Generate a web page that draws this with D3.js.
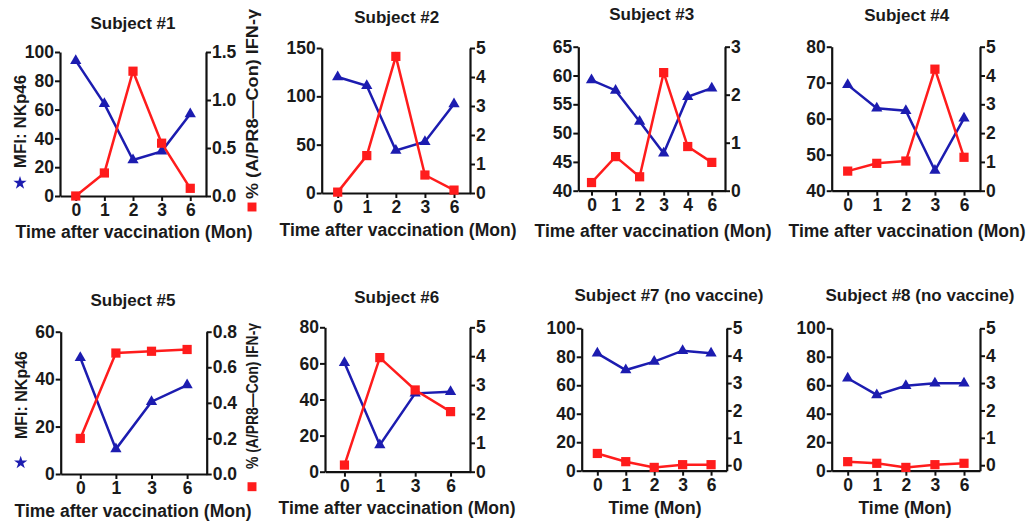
<!DOCTYPE html>
<html>
<head>
<meta charset="utf-8">
<script src="https://cdn.jsdelivr.net/npm/d3@7"></script>
<style>
  body { margin: 0; background: #fff; }
  text { font-family: 'Liberation Sans', Arial, sans-serif; font-weight: bold; fill: #1a1a1a; }
</style>
</head>
<body>
<div id="chart"></div>
<script>
// chart data
const titles = ['Subject #1', 'Subject #2', 'Subject #3', 'Subject #4',
  'Subject #5', 'Subject #6', 'Subject #7 (no vaccine)', 'Subject #8 (no vaccine)']

const xTitles = ['Time after vaccination (Mon)', 'Time after vaccination (Mon)',
  'Time after vaccination (Mon)', 'Time after vaccination (Mon)',
  'Time after vaccination (Mon)', 'Time after vaccination (Mon)',
  'Time (Mon)', 'Time (Mon)']

const timeLabels = [
  ['0', '1', '2', '3', '6'],
  ['0', '1', '2', '3', '6'],
  ['0', '1', '2', '3', '4', '6'],
  ['0', '1', '2', '3', '6'],
  ['0', '1', '3', '6'],
  ['0', '1', '3', '6'],
  ['0', '1', '2', '3', '6'],
  ['0', '1', '2', '3', '6']
]

// MFI: NKp46 (blue, left axis)
const nkp46 = [
  [94, 64, 25, 31, 57],
  [120, 111, 44, 53, 92],
  [59.2, 57.4, 52.0, 46.5, 56.3, 57.8],
  [69.4, 62.9, 62.2, 45.6, 60.1],
  [49, 10.5, 30.5, 37.5],
  [60.4, 14.8, 43.4, 44.3],
  [82.4, 70.7, 76.6, 84.3, 82.4],
  [64.9, 53.2, 59.7, 61.4, 61.4]
]

// % (A/PR8-Con) IFN-g (red, right axis)
const ifng = [
  [0, 0.24, 1.30, 0.55, 0.08],
  [0.03, 1.29, 4.71, 0.62, 0.1],
  [0.17, 0.71, 0.29, 2.46, 0.92, 0.59],
  [0.68, 0.95, 1.03, 4.22, 1.16],
  [0.2, 0.68, 0.69, 0.70],
  [0.23, 3.95, 2.83, 2.08],
  [0.43, 0.13, -0.08, 0.02, 0.02],
  [0.13, 0.07, -0.08, 0.02, 0.07]
]

const leftDomains = [[0, 100], [0, 150], [40, 65], [40, 80], [0, 60], [0, 80], [0, 100], [0, 100]]
const leftTicks = [
  [0, 20, 40, 60, 80, 100],
  [0, 50, 100, 150],
  [40, 45, 50, 55, 60, 65],
  [40, 50, 60, 70, 80],
  [0, 20, 40, 60],
  [0, 20, 40, 60, 80],
  [0, 20, 40, 60, 80, 100],
  [0, 20, 40, 60, 80, 100]
]
const rightDomains = [[0, 1.5], [0, 5], [0, 3], [0, 5], [0, 0.8], [0, 5], [-0.2, 5], [-0.2, 5]]
const rightTicks = [
  [0, 0.5, 1.0, 1.5],
  [0, 1, 2, 3, 4, 5],
  [0, 1, 2, 3],
  [0, 1, 2, 3, 4, 5],
  [0, 0.2, 0.4, 0.6, 0.8],
  [0, 1, 2, 3, 4, 5],
  [0, 1, 2, 3, 4, 5],
  [0, 1, 2, 3, 4, 5]
]
const rightFormats = ['.1f', 'd', 'd', 'd', '.1f', 'd', 'd', 'd']

// where each little panel sits on the page
const layout = [
  { xl: 60, xr: 206, yt: 52, yb: 196, tx: 133, ty: 29, ax: 134, ay: 238 },
  { xl: 321.7, xr: 470, yt: 48, yb: 193, tx: 396.7, ty: 23, ax: 398, ay: 236 },
  { xl: 578.3, xr: 725, yt: 46.7, yb: 190.7, tx: 651.7, ty: 20, ax: 653, ay: 237 },
  { xl: 831.7, xr: 980, yt: 46.7, yb: 190.7, tx: 906.7, ty: 21, ax: 907, ay: 237 },
  { xl: 60.7, xr: 206.7, yt: 331.7, yb: 474, tx: 133, ty: 306, ax: 133, ay: 517 },
  { xl: 325, xr: 470, yt: 327.3, yb: 471.7, tx: 396.7, ty: 303, ax: 397, ay: 514 },
  { xl: 581.7, xr: 726.7, yt: 328.3, yb: 470.7, tx: 669, ty: 301, ax: 655, ay: 514 },
  { xl: 831.7, xr: 980, yt: 328.3, yb: 470.7, tx: 920, ty: 301, ax: 905, ay: 514 }
]

const width = 1027
const height = 525
const blue = '#1c1cb0'
const red = '#ff1c1c'

const svg = d3
  .select('#chart')
  .append('svg')
  .attr('width', width)
  .attr('height', height)

function styleAxis(g) {
  g.select('.domain').attr('stroke', '#111').attr('stroke-width', 2.2)
  g.selectAll('.tick line').attr('stroke', '#111').attr('stroke-width', 2)
  g.selectAll('.tick text')
    .attr('font-size', 17.5)
    .attr('font-family', "'Liberation Sans', Arial, sans-serif")
    .attr('font-weight', 'bold')
    .attr('fill', '#1a1a1a')
}

titles.forEach((title, i) => {
  const p = layout[i]
  const g = svg.append('g').attr('class', 'panel')

  const xPositionScale = d3
    .scalePoint()
    .domain(timeLabels[i])
    .range([p.xl, p.xr])
    .padding(0.55)

  const yLeft = d3.scaleLinear().domain(leftDomains[i]).range([p.yb, p.yt])
  const yRight = d3.scaleLinear().domain(rightDomains[i]).range([p.yb, p.yt])

  // axes
  const xAxis = d3.axisBottom(xPositionScale).tickSize(5).tickPadding(3).tickSizeOuter(0)
  g.append('g')
    .attr('transform', 'translate(0,' + p.yb + ')')
    .call(xAxis)
    .call(styleAxis)

  const leftAxis = d3.axisLeft(yLeft).tickValues(leftTicks[i]).tickSize(5).tickPadding(1).tickSizeOuter(0)
  g.append('g')
    .attr('transform', 'translate(' + p.xl + ',0)')
    .call(leftAxis)
    .call(styleAxis)

  const rightAxis = d3
    .axisRight(yRight)
    .tickValues(rightTicks[i])
    .tickFormat(d3.format(rightFormats[i]))
    .tickSize(5)
    .tickPadding(1)
    .tickSizeOuter(0)
  g.append('g')
    .attr('transform', 'translate(' + p.xr + ',0)')
    .call(rightAxis)
    .call(styleAxis)

  // lines
  const times = timeLabels[i]
  const redLine = d3.line().x((d, j) => xPositionScale(times[j])).y(d => yRight(d))
  const blueLine = d3.line().x((d, j) => xPositionScale(times[j])).y(d => yLeft(d))

  g.append('path')
    .datum(nkp46[i])
    .attr('d', blueLine)
    .attr('fill', 'none')
    .attr('stroke', blue)
    .attr('stroke-width', 2.5)

  g.append('path')
    .datum(ifng[i])
    .attr('d', redLine)
    .attr('fill', 'none')
    .attr('stroke', red)
    .attr('stroke-width', 2.5)

  g.selectAll('.tri')
    .data(nkp46[i])
    .enter()
    .append('path')
    .attr('class', 'tri')
    .attr('d', d3.symbol().type(d3.symbolTriangle).size(55))
    .attr('transform', (d, j) => 'translate(' + xPositionScale(times[j]) + ',' + yLeft(d) + ')')
    .attr('fill', blue)

  g.selectAll('.sq')
    .data(ifng[i])
    .enter()
    .append('path')
    .attr('class', 'sq')
    .attr('d', d3.symbol().type(d3.symbolSquare).size(85))
    .attr('transform', (d, j) => 'translate(' + xPositionScale(times[j]) + ',' + yRight(d) + ')')
    .attr('fill', red)

  // titles
  g.append('text')
    .attr('x', p.tx)
    .attr('y', p.ty)
    .attr('text-anchor', 'middle')
    .attr('font-size', 17)
    .text(title)

  g.append('text')
    .attr('x', p.ax)
    .attr('y', p.ay)
    .attr('text-anchor', 'middle')
    .attr('font-size', 17.5)
    .text(xTitles[i])
})

// axis titles with their legend symbols (first column only)
const sideLabels = [
  { lx: 20, ly: 121.5, lsize: 17, rx: 252, ry: 104, rlen: 190, star: [20, 183], sq: [252, 207] },
  { lx: 21.7, ly: 395, lsize: 16, rx: 252, ry: 396, rlen: 146, star: [20.7, 462.7], sq: [252, 486.7] }
]

sideLabels.forEach(s => {
  svg.append('text')
    .attr('transform', 'translate(' + s.lx + ',' + s.ly + ') rotate(-90)')
    .attr('dy', '0.35em')
    .attr('text-anchor', 'middle')
    .attr('font-size', s.lsize)
    .text('MFI: NKp46')

  svg.append('text')
    .attr('transform', 'translate(' + s.rx + ',' + s.ry + ') rotate(-90)')
    .attr('dy', '0.35em')
    .attr('text-anchor', 'middle')
    .attr('font-size', 17)
    .attr('textLength', s.rlen)
    .attr('lengthAdjust', 'spacingAndGlyphs')
    .text('% (A/PR8\u2014Con) IFN-\u03b3')

  svg.append('path')
    .attr('d', d3.symbol().type(d3.symbolStar).size(55))
    .attr('transform', 'translate(' + s.star[0] + ',' + s.star[1] + ')')
    .attr('fill', blue)

  svg.append('path')
    .attr('d', d3.symbol().type(d3.symbolSquare).size(80))
    .attr('transform', 'translate(' + s.sq[0] + ',' + s.sq[1] + ')')
    .attr('fill', red)
})
</script>
</body>
</html>
